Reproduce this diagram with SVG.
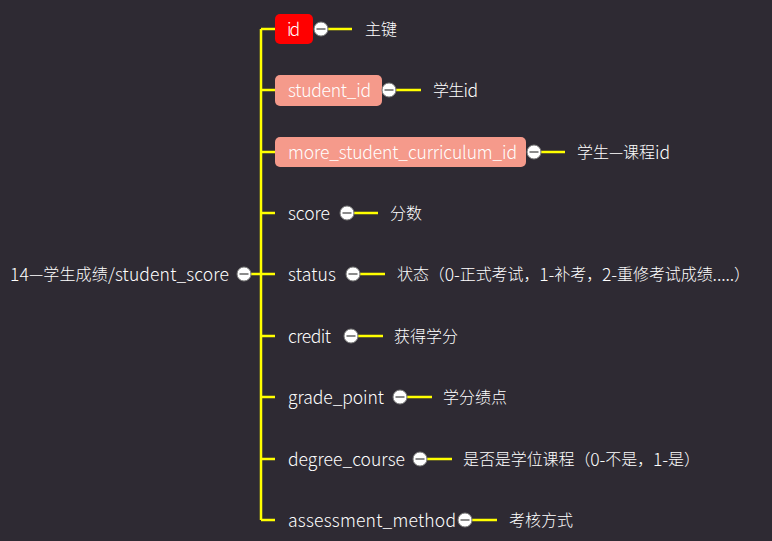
<svg xmlns="http://www.w3.org/2000/svg" width="772" height="541" viewBox="0 0 772 541">
<defs>
<style>
.t{font-family:"Noto Sans CJK SC","Noto Sans",sans-serif;font-size:16px;font-weight:300;fill:#ffffff;dominant-baseline:central;transform:translateY(-1px)}
.l{font-size:17.5px}
.c{stroke:#ffff00;stroke-width:2.5;fill:none}
.k{fill:#ffffff;stroke:#7a7a7a;stroke-width:1}
.m{stroke:#6e6e6e;stroke-width:1.6}
</style>
<g id="toggle"><circle class="k" cx="0" cy="0" r="7"/><line class="m" x1="-4.5" y1="0" x2="4.5" y2="0"/></g>
</defs>
<rect width="772" height="541" fill="#2e2a33"/>
<g id="connectors">
<path class="c" d="M251 274H261M261 29V520M261 29H275M261 90H275M261 152H275M261 213H275M261 274H275M261 336H275M261 397H275M261 459H275M261 520H275"/>
<path class="c" d="M328 29H352M396 90H421M541 152H565M354 213H378M360 274H385M358 336H383M407 397H432M427 459H452M472 520H497"/>
</g>
<g id="root"><text class="t" x="10" y="274" textLength="219" lengthAdjust="spacing"><tspan class="l">14</tspan>—学生成绩<tspan class="l">/student_score</tspan></text><use href="#toggle" x="244" y="274"/></g>
<g id="n-id"><rect x="275" y="14" width="38" height="30" rx="5" fill="#ff0000"/><text class="t l" x="287" y="29" textLength="13" lengthAdjust="spacing">id</text><use href="#toggle" x="321" y="29"/></g>
<g id="n-id-d"><text class="t" x="365" y="29">主键</text></g>
<g id="n-student_id"><rect x="275" y="75" width="107" height="31" rx="5" fill="#f59a8b"/><text class="t l" x="288" y="90" textLength="83" lengthAdjust="spacing">student_id</text><use href="#toggle" x="389" y="90"/></g>
<g id="n-student_id-d"><text class="t" x="433" y="90" textLength="45" lengthAdjust="spacing">学生<tspan class="l">id</tspan></text></g>
<g id="n-msc"><rect x="275" y="137" width="251" height="30" rx="5" fill="#f59a8b"/><text class="t l" x="288" y="152" textLength="229" lengthAdjust="spacing">more_student_curriculum_id</text><use href="#toggle" x="534" y="152"/></g>
<g id="n-msc-d"><text class="t" x="577" y="152" textLength="93" lengthAdjust="spacing">学生—课程<tspan class="l">id</tspan></text></g>
<g id="n-score"><text class="t l" x="288" y="213" textLength="42" lengthAdjust="spacing">score</text><use href="#toggle" x="347" y="213"/></g>
<g id="n-score-d"><text class="t" x="390" y="213">分数</text></g>
<g id="n-status"><text class="t l" x="288" y="274" textLength="48" lengthAdjust="spacing">status</text><use href="#toggle" x="353" y="274"/></g>
<g id="n-status-d"><text class="t" x="397" y="274" textLength="353" lengthAdjust="spacing">状态（<tspan class="l">0-</tspan>正式考试，<tspan class="l">1-</tspan>补考，<tspan class="l">2-</tspan>重修考试成绩<tspan class="l">.....</tspan>）</text></g>
<g id="n-credit"><text class="t l" x="288" y="336" textLength="43" lengthAdjust="spacing">credit</text><use href="#toggle" x="351" y="336"/></g>
<g id="n-credit-d"><text class="t" x="394" y="336">获得学分</text></g>
<g id="n-grade_point"><text class="t l" x="288" y="397" textLength="96" lengthAdjust="spacing">grade_point</text><use href="#toggle" x="400" y="397"/></g>
<g id="n-grade_point-d"><text class="t" x="443" y="397">学分绩点</text></g>
<g id="n-degree_course"><text class="t l" x="288" y="459" textLength="117" lengthAdjust="spacing">degree_course</text><use href="#toggle" x="420" y="459"/></g>
<g id="n-degree_course-d"><text class="t" x="463" y="459" textLength="237" lengthAdjust="spacing">是否是学位课程（<tspan class="l">0-</tspan>不是，<tspan class="l">1-</tspan>是）</text></g>
<g id="n-assessment_method"><text class="t l" x="288" y="520" textLength="168" lengthAdjust="spacing">assessment_method</text><use href="#toggle" x="465" y="520"/></g>
<g id="n-assessment_method-d"><text class="t" x="509" y="520">考核方式</text></g>
</svg>
